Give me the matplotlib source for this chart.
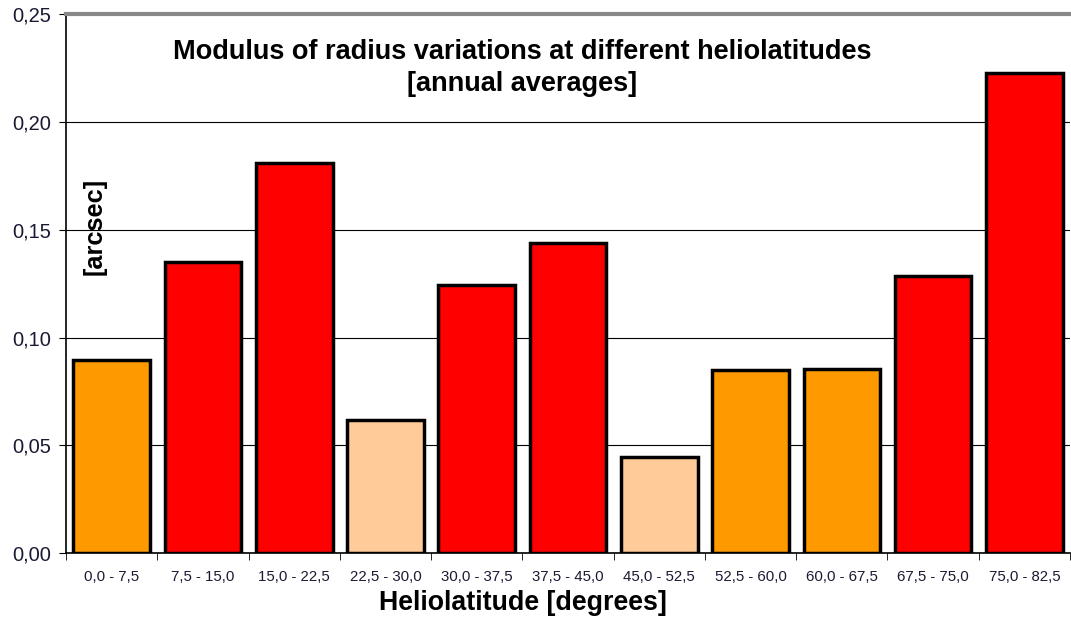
import numpy as np
import matplotlib.pyplot as plt

plt.rcParams['font.family'] = ['Liberation Sans', 'DejaVu Sans']

categories = ['0,0 - 7,5', '7,5 - 15,0', '15,0 - 22,5', '22,5 - 30,0', '30,0 - 37,5',
              '37,5 - 45,0', '45,0 - 52,5', '52,5 - 60,0', '60,0 - 67,5', '67,5 - 75,0',
              '75,0 - 82,5']
values = [0.0895, 0.135, 0.181, 0.0617, 0.1243, 0.1438, 0.0448, 0.0849, 0.0852, 0.1285, 0.2225]
colors = ['#FF9900', '#FF0000', '#FF0000', '#FFCC99', '#FF0000', '#FF0000',
          '#FFCC99', '#FF9900', '#FF9900', '#FF0000', '#FF0000']
yticks = [0.0, 0.05, 0.10, 0.15, 0.20, 0.25]
ytick_labels = ['0,00', '0,05', '0,10', '0,15', '0,20', '0,25']

fig = plt.figure(figsize=(10.71, 6.18), dpi=100)
ax = fig.add_axes([0.0616, 0.105, 0.9375, 0.872])

x = np.arange(len(categories))
ax.set_axisbelow(True)
ax.yaxis.grid(True, color='black', linewidth=0.8)
ax.bar(x, values, width=0.84, color=colors, edgecolor='black', linewidth=2.5, zorder=3)

ax.set_xlim(-0.5, len(categories) - 0.5)
ax.set_ylim(0, 0.25)
ax.set_yticks(yticks)
ax.set_yticklabels(ytick_labels, fontsize=14.5, color='#1a1a33')
ax.set_xticks(x)
ax.set_xticklabels(categories, fontsize=10.8, color='#1a1a33')
ax.set_xticks(np.arange(len(categories) + 1) - 0.5, minor=True)
ax.tick_params(axis='x', which='major', length=0, pad=12)
ax.tick_params(axis='x', which='minor', length=5, color='black')
ax.tick_params(axis='y', length=5, color='black', pad=6)

ax.spines['right'].set_visible(False)
ax.spines['top'].set_color('#888888')
ax.spines['top'].set_linewidth(3)
ax.spines['left'].set_linewidth(1.2)
ax.spines['bottom'].set_linewidth(1.2)

ax.text(0.454, 0.90, 'Modulus of radius variations at different heliolatitudes\n[annual averages]',
        transform=ax.transAxes, ha='center', va='center', fontsize=19.5,
        fontweight='bold', linespacing=1.3)
ax.text(0.029, 0.607, '[arcsec]', transform=ax.transAxes, rotation=90,
        ha='center', va='center', fontsize=18.3, fontweight='bold')
fig.text(0.488, 0.024, 'Heliolatitude [degrees]', ha='center', va='center',
         fontsize=19.3, fontweight='bold')

fig.savefig('out.png', dpi=100)
